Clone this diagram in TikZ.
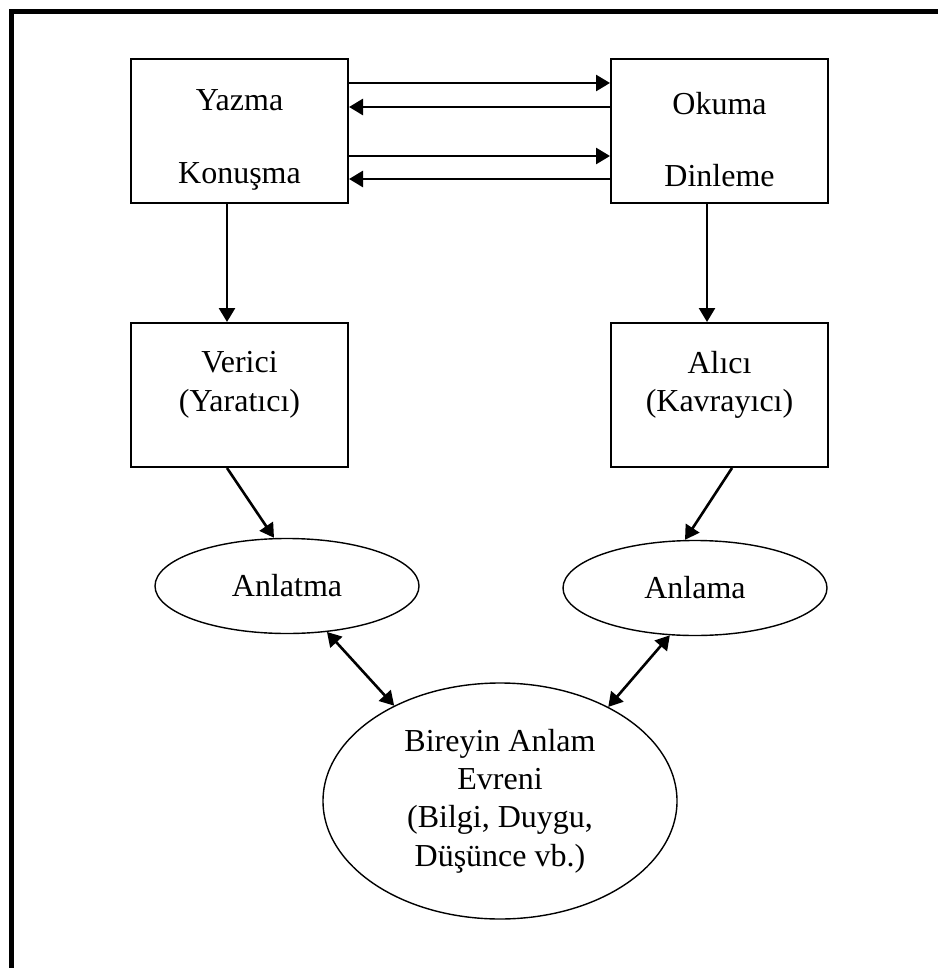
\documentclass[tikz,border=0pt]{standalone}
\usepackage{fontspec}
\setmainfont{Liberation Serif}
\usetikzlibrary{arrows.meta,shapes.geometric,calc}

\begin{document}
\begin{tikzpicture}[x=0.5pt, y=-0.5pt, >={Triangle[length=7pt,width=8pt]},
                    font=\fontsize{16}{19.2}\selectfont]
        \tikzset{kutu/.style={draw, rectangle, line width=1pt, minimum width=108.5pt,
                 minimum height=72pt, inner sep=0pt},
                 elips/.style={draw, ellipse, line width=0.7pt, inner sep=0pt, align=center},
                 ok/.style={->, line width=1.3pt}}
        \useasboundingbox (0,0) rectangle (938,968);
        %% Cerceve
        \draw[line width=2.4pt] (11.7,968) -- (11.7,11.7) -- (938,11.7);
        %% Kutular
        \node[kutu, label={[align=center, yshift=-4.4pt]center:Yazma\\[17pt]Konuşma}]  (yaz) at (239.5,131) {};
        \node[kutu, label={[align=center, yshift=-4.4pt]center:Okuma\\[17pt]Dinleme}]  (oku) at (719.5,131) {};
        \node[kutu, label={[align=center, yshift=5pt]center:Verici\\(Yaratıcı)}]       (ver) at (239.5,395) {};
        \node[kutu, label={[align=center, yshift=5pt]center:Alıcı\\(Kavrayıcı)}]       (alc) at (719.5,395) {};
        %% Elipsler
        \node[elips, minimum width=132pt, minimum height=47.5pt] (anl) at (287,586) {Anlatma};
        \node[elips, minimum width=132pt, minimum height=47.5pt] (anm) at (695,588) {Anlama};
        \node[elips, minimum width=177pt, minimum height=118pt]  (bir) at (500,801)
             {Bireyin Anlam\\Evreni\\(Bilgi, Duygu,\\Düşünce vb.)};
        %% Yatay oklar
        \draw[ok] ($(yaz.east)+(0,-48)$) -- ($(oku.west)+(0,-48)$);
        \draw[ok] ($(oku.west)+(0,-24)$) -- ($(yaz.east)+(0,-24)$);
        \draw[ok] ($(yaz.east)+(0,25)$)  -- ($(oku.west)+(0,25)$);
        \draw[ok] ($(oku.west)+(0,48)$)  -- ($(yaz.east)+(0,48)$);
        %% Dikey oklar
        \draw[ok] ($(yaz.south)+(-12.5,0)$) -- ($(ver.north)+(-12.5,0)$);
        \draw[ok] ($(oku.south)+(-12.5,0)$) -- ($(alc.north)+(-12.5,0)$);
        \draw[ok] ($(ver.south)+(-12.5,0)$) -- ($(anl.north)+(-13,0)$);
        \draw[ok] ($(alc.south)+(12.5,0)$)  -- ($(anm.north)+(-10,0)$);
        %% Cift yonlu oklar
        \draw[ok, <->] (anl.-49)  -- (bir.138);
        \draw[ok, <->] (anm.-118) -- (bir.41);
\end{tikzpicture}
\end{document}
